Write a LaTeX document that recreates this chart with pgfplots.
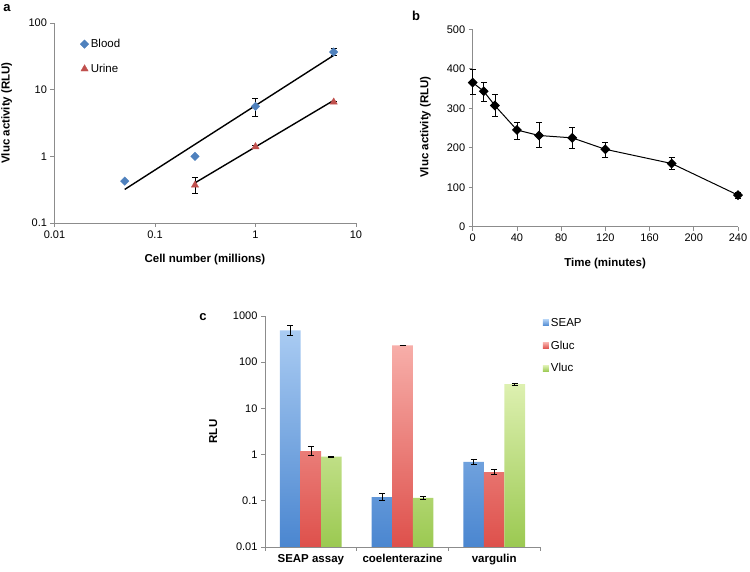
\documentclass[border=0pt]{standalone}
\usepackage{pgfplots}
\pgfplotsset{compat=1.18}
\usepackage{fontspec}
\setmainfont{Liberation Sans}
\definecolor{blood}{HTML}{4F81BD}
\definecolor{urine}{HTML}{C0504D}
\definecolor{seapT}{HTML}{A9CBF2}
\definecolor{seapB}{HTML}{4A86D0}
\definecolor{glucT}{HTML}{F7AEA9}
\definecolor{glucB}{HTML}{DE504B}
\definecolor{vlucT}{HTML}{DDF0B0}
\definecolor{vlucB}{HTML}{9BC951}
\definecolor{axgray}{HTML}{8C8C8C}
\pgfplotsset{
  base/.style={
    scale only axis,
    axis lines*=left,
    axis line style={axgray, line width=0.8pt},
    tick style={axgray, line width=0.8pt},
    tick align=outside,
    major tick length=4pt,
    xminorticks=false, yminorticks=false,
    /pgf/number format/assume math mode=true,
    ticklabel style={font=\fontsize{11}{13}\selectfont},
    label style={font=\bfseries\fontsize{11.5}{13}\selectfont},
    clip=false,
  },
  ebar/.style={error bars/.cd, y dir=both, y explicit,
    error bar style={black, line width=0.6pt},
    error mark options={black, rotate=90, mark size=3pt, line width=0.6pt}},
}
\begin{document}
\begin{tikzpicture}[x=1pt,y=1pt]
\useasboundingbox (0,0) rectangle (750,572);
% ---------------- panel a
\begin{axis}[base, at={(54.5pt,349pt)}, anchor=south west, width=301.5pt, height=200pt,
  xmode=log, ymode=log, xmin=0.01, xmax=10, ymin=0.1, ymax=100,
  xtick={0.01,0.1,1,10}, xticklabels={0.01,0.1,1,10},
  ytick={0.1,1,10,100}, yticklabels={0.1,1,10,100},
  xlabel={Cell number (millions)}, ylabel={Vluc activity (RLU)},
  xlabel style={at={(axis description cs:0.499,-0.185)}, anchor=center},
  ylabel style={at={(axis description cs:-0.159,0.55)}, anchor=center},
  legend style={draw=none, fill=none, at={(axis description cs:0.085,0.93)}, anchor=north west,
    font=\fontsize{11.5}{13}\selectfont, row sep=11pt, inner sep=0pt},
  legend cell align=left,
  legend image code/.code={\draw[#1] plot coordinates {(0pt,0pt)};},
]
\addplot[only marks, mark=square*, mark options={rotate=45}, mark size=3pt, color=blood, ebar] coordinates {
 (0.05,0.425) +- (0,0)
 (0.25,1.0) +- (0,0.04)
 (1,5.6) += (0,1.7) -= (0,1.6)
 (6,36.7) += (0,5.2) -= (0,4.3)
};
\addlegendentry{Blood}
\addplot[only marks, mark=triangle*, mark size=4.2pt, color=urine, ebar] coordinates {
 (0.25,0.37) += (0,0.12) -= (0,0.09)
 (1,1.39) +- (0,0.06)
 (6,6.5) +- (0,0.3)
};
\addlegendentry{Urine}
\addplot[black, line width=1.4pt, forget plot] coordinates {(0.05,0.319) (6,32.7)};
\addplot[black, line width=1.4pt, forget plot] coordinates {(0.25,0.40) (6,6.9)};
\end{axis}
\node[font=\bfseries\fontsize{13}{15}\selectfont] at (7,564) {a};
% ---------------- panel b
\begin{axis}[base, at={(472.7pt,345.3pt)}, anchor=south west, width=265.3pt, height=197.4pt,
  xmin=0, xmax=240, ymin=0, ymax=500,
  xtick={0,40,...,240}, ytick={0,100,...,500},
  xlabel={Time (minutes)}, ylabel={Vluc activity (RLU)},
  xlabel style={at={(axis description cs:0.499,-0.185)}, anchor=center},
  ylabel style={at={(axis description cs:-0.178,0.505)}, anchor=center},
]
\addplot[black, line width=1pt, mark=square*, mark options={rotate=45}, mark size=3pt, ebar] coordinates {
 (0,365) += (0,34) -= (0,30)
 (10,343) += (0,24) -= (0,25)
 (20,307) += (0,29) -= (0,27)
 (40,245) += (0,20) -= (0,23)
 (60,231) += (0,33) -= (0,29)
 (90,225) += (0,27) -= (0,27)
 (120,196) += (0,19) -= (0,20)
 (180,160) += (0,17) -= (0,15)
 (240,80) += (0,8) -= (0,7)
};
\end{axis}
\node[font=\bfseries\fontsize{13}{15}\selectfont] at (416,556) {b};
% ---------------- panel c
\begin{axis}[base, at={(265pt,25pt)}, anchor=south west, width=275pt, height=231pt,
  ymode=log, ymin=0.01, ymax=1000, log origin y=infty,
  xmin=-0.5, xmax=2.5,
  xtick={0,1,2}, xticklabels={SEAP assay, coelenterazine, vargulin},
  xticklabel style={font=\bfseries\fontsize{11.5}{13}\selectfont},
  major x tick style={draw=none},
  xminorticks=true, minor xtick={-0.5,0.5,1.5,2.5}, minor tick length=4pt,
  minor x tick style={axgray, line width=0.8pt},
  ytick={0.01,0.1,1,10,100,1000}, yticklabels={0.01,0.1,1,10,100,1000},
  ylabel={RLU},
  ylabel style={at={(axis description cs:-0.188,0.5)}, anchor=center},
  ybar, bar width=20.6pt,
  legend style={draw=none, fill=none, at={(axis description cs:1.01,1.0)}, anchor=north west,
    font=\fontsize{11.5}{13}\selectfont, row sep=9pt, inner sep=0pt},
  legend cell align=left,
  legend image code/.code={\fill[#1] (0pt,-3pt) rectangle (6pt,3pt);},
]
\addplot[draw=none, top color=seapT, bottom color=seapB, bar shift=-20.6pt, ebar] coordinates {
 (0,490) += (0,130) -= (0,110)
 (1,0.12) += (0,0.025) -= (0,0.02)
 (2,0.70) += (0,0.10) -= (0,0.08)
};
\addlegendentry{SEAP}
\addplot[draw=none, top color=glucT, bottom color=glucB, bar shift=0pt, ebar] coordinates {
 (0,1.19) += (0,0.31) -= (0,0.23)
 (1,232) +- (0,3)
 (2,0.42) += (0,0.06) -= (0,0.04)
};
\addlegendentry{Gluc}
\addplot[draw=none, top color=vlucT, bottom color=vlucB, bar shift=20.6pt, ebar] coordinates {
 (0,0.90) +- (0,0.04)
 (1,0.116) += (0,0.012) -= (0,0.009)
 (2,33.4) +- (0,1)
};
\addlegendentry{Vluc}
\end{axis}
\node[font=\bfseries\fontsize{13}{15}\selectfont] at (203,255) {c};
\end{tikzpicture}
\end{document}
